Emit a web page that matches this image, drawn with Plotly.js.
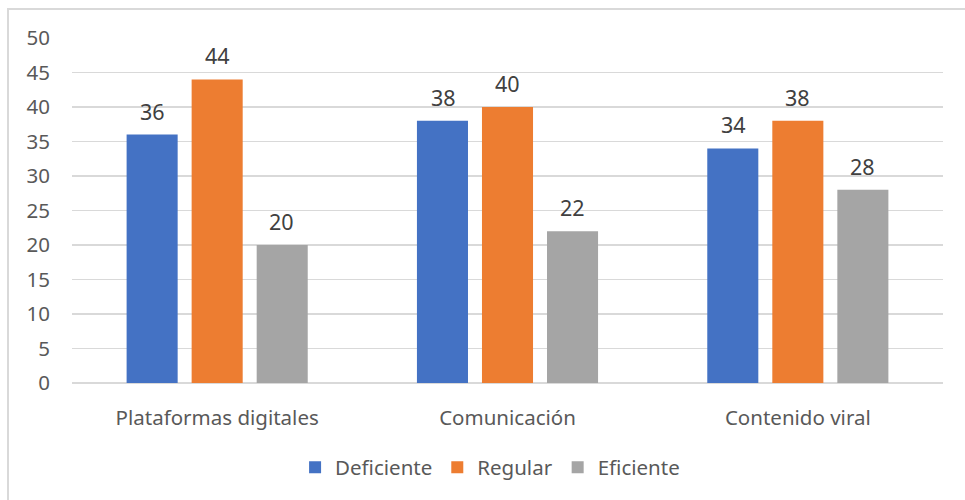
<!DOCTYPE html>
<html>
<head>
<meta charset="utf-8">
<script src="https://cdn.plot.ly/plotly-3.0.1.min.js"></script>
<style>
  html, body { margin: 0; padding: 0; background: #fff; }
  #wrap { position: relative; width: 965px; height: 500px; overflow: hidden; }
  #frame { position: absolute; left: 7px; top: 8px; width: 970px; height: 500px;
           border-left: 2px solid #D9D9D9; border-top: 2px solid #D9D9D9; box-sizing: border-box; pointer-events: none; }
  #chart { position: absolute; left: 0; top: 0; width: 965px; height: 500px; }
</style>
</head>
<body>
<div id="wrap">
  <div id="chart"></div>
  <div id="frame"></div>
</div>
<script>
const categories = ["Plataformas digitales", "Comunicación", "Contenido viral"];
const seriesNames = ["Deficiente", "Regular", "Eficiente"];
const deficiente = [36, 38, 34];
const regular = [44, 40, 38];
const eficiente = [20, 22, 28];
const yTicks = [0, 5, 10, 15, 20, 25, 30, 35, 40, 45, 50];

const font = "Noto Sans, sans-serif";
const colors = ["#4472C4", "#ED7D31", "#A5A5A5"];
const allValues = [deficiente, regular, eficiente];

const data = allValues.map((vals, i) => ({
  type: "bar", name: seriesNames[i], x: categories, y: vals,
  marker: { color: colors[i] }, hoverinfo: "skip"
}));

// data labels as annotations so the gap above bars matches the reference
const offsets = [-64.5, 0, 64.5];
const annotations = [];
allValues.forEach((vals, i) => {
  vals.forEach((v, j) => {
    annotations.push({
      xref: "x", yref: "y", x: categories[j], y: v, xshift: offsets[i],
      yanchor: "bottom", yshift: 7, showarrow: false, text: String(v),
      font: { family: font, size: 21.5, color: "#404040" }
    });
  });
});

const layout = {
  width: 965, height: 500,
  margin: { l: 72, r: 22, t: 38, b: 115 },
  paper_bgcolor: "#fff", plot_bgcolor: "#fff",
  barmode: "group", bargap: 0.328, bargroupgap: 0.215,
  font: { family: font, color: "#595959", size: 20.5 },
  xaxis: { automargin: false, showgrid: false, showline: false, ticks: "", ticklabelstandoff: 20,
           tickfont: { family: font, size: 20.5, color: "#595959" } },
  yaxis: { automargin: false, range: [0, 50], tickvals: yTicks, showgrid: true, gridcolor: "#D9D9D9", gridwidth: 1.5,
           zeroline: true, zerolinecolor: "#D9D9D9", zerolinewidth: 1.5, showline: false, ticks: "",
           ticklabelstandoff: 21, tickfont: { family: font, size: 20.5, color: "#595959" } },
  annotations: annotations,
  showlegend: true,
  legend: { orientation: "h", x: 0.480, xanchor: "center", y: -0.245, yanchor: "middle",
            font: { family: font, size: 20.5, color: "#595959" }, itemwidth: 30, traceorder: "normal" }
};
Plotly.newPlot("chart", data, layout, { staticPlot: true, displayModeBar: false });
</script>
</body>
</html>
